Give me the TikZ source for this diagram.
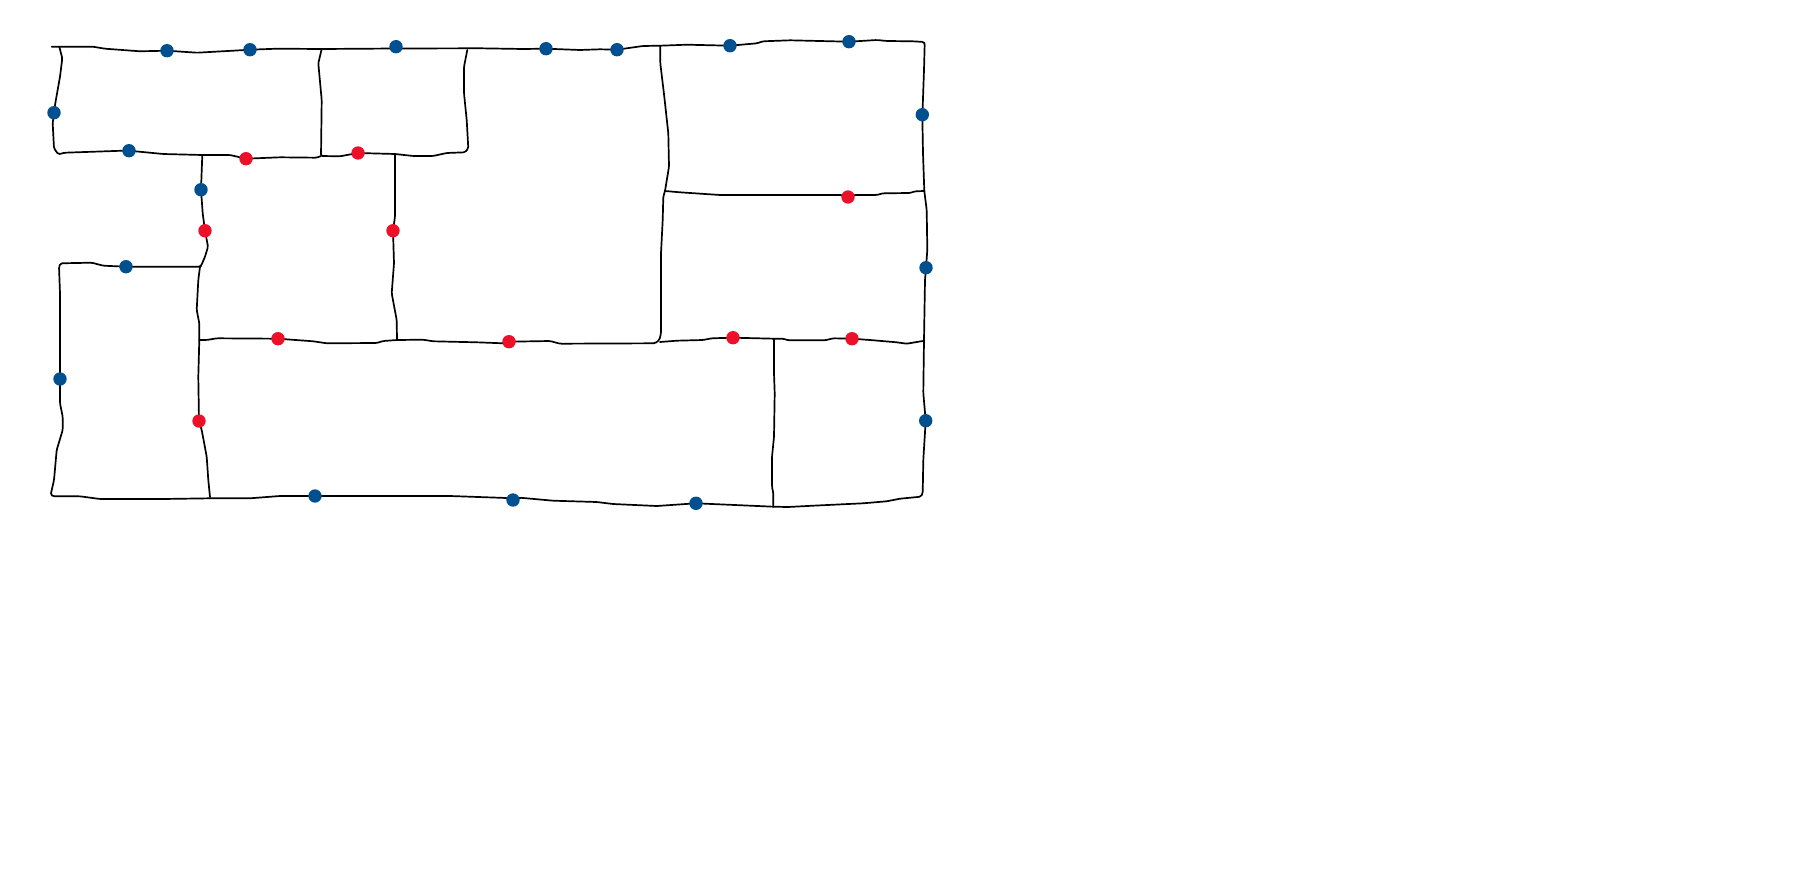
\documentclass[tikz,border=0pt]{standalone}
\pgfdeclarelayer{wires}
\pgfsetlayers{wires,main}
\definecolor{dotblue}{HTML}{00508F}
\definecolor{dotred}{HTML}{EC1128}
\tikzset{
  bluedot/.style={circle,fill=dotblue,draw=none,inner sep=0pt,minimum size=13.4pt},
  reddot/.style={circle,fill=dotred,draw=none,inner sep=0pt,minimum size=13.4pt},
  wire/.style={draw=black,line width=1.7pt,rounded corners=1.5pt,line join=round,line cap=round}
}
\begin{document}
\begin{tikzpicture}[x=1pt,y=-1pt]
\useasboundingbox (0,0) rectangle (1820,880);
% blue dots
\foreach \n/\x/\y in {b1/167/50.7,b2/250/49.7,b3/396/46.7,b4/54/112.7,b5/129/150.7,b6/201/189.7,b7/126/266.7,
  b8/546/48.7,b9/617/49.7,b10/730/45.7,b11/849/41.7,b12/922.3/114.7,b13/926/267.7,b14/60/379,b15/315/496,
  b16/513/500,b17/696/503.3,b18/925.7/420.7}
  \node[bluedot] (\n) at (\x,\y) {};
% red dots
\foreach \n/\x/\y in {r1/246/158.7,r2/358/153,r3/205/230.7,r4/393/230.7,r5/848/197,r6/199/421,r7/278/338.7,
  r8/509/341.7,r9/733/337.7,r10/852/338.7}
  \node[reddot] (\n) at (\x,\y) {};
% junctions and free ends
\coordinate (s1) at (51.7,46.7);
\coordinate (s2) at (59.3,46.7);
\coordinate (s3) at (467.3,50);
\coordinate (jA) at (321.7,49);
\coordinate (jE) at (660.3,45.7);
\coordinate (jF) at (202.3,155);
\coordinate (jG) at (321,156);
\coordinate (jH) at (395,154);
\coordinate (jI) at (200,266.7);
\coordinate (jJ) at (199.3,340);
\coordinate (jK) at (397,340);
\coordinate (jL) at (665,191);
\coordinate (jM) at (924.3,191);
\coordinate (jN) at (774,338.7);
\coordinate (jO) at (773.3,506.7);
\coordinate (jP) at (210,497);
\coordinate (jQ) at (922.7,341);
\coordinate (jR) at (660,342);
\begin{pgfonlayer}{wires}
% outer loop
\draw[wire] (s1) -- (93,46.7) -- (105,48.7) -- (140,51.3) -- (b1.center) -- (197,52.7) -- (233,50.7) -- (b2.center)
  -- (277,48.7) -- (jA) -- (396,48.5) -- (480,48.3) -- (523,49) -- (b8.center) -- (580,50) -- (600,49.3) -- (b9.center)
  -- (643,46) -- (jE) -- (687,44.7) -- (b10.center) -- (757,43.3) -- (763,41.3) -- (790,40.3) -- (b11.center)
  -- (877,40) -- (887,41) -- (913,41.3) -- (924,42) -- (924.7,44) -- (924,70) -- (922.7,106.7) -- (b12.center)
  -- (923,153.3) -- (jM) -- (926.7,210) -- (927.3,250) -- (b13.center) -- (925,280) -- (924,340) -- (923.3,393)
  -- (b18.center) -- (923.3,460) -- (922.7,493.3) -- (920.7,496.7) -- (900,498.7) -- (886.7,501.3) -- (863,503.3)
  -- (813,505.7) -- (788,507) -- (jO) -- (b17.center) -- (656.7,506) -- (613,504) -- (596.7,502) -- (553,500.7)
  -- (520,497.7) -- (b16.center) -- (506.7,498) -- (450,496) -- (b15.center) -- (280,496) -- (250,498.3) -- (210,498.3)
  -- (163,499) -- (100,499) -- (80,496.3) -- (53.3,496.3) -- (50.7,494.7) -- (54,480) -- (56.7,450) -- (62.7,430)
  -- (62.7,416.7) -- (60,403.3) -- (b14.center) -- (60,293.3) -- (59,266.7) -- (60.7,263.3) -- (91.7,262.7)
  -- (103.3,265.7) -- (b7.center) -- (jI) -- (201,266) -- (205,256.7) -- (208,246.7) -- (r3.center) -- (202.7,213.3)
  -- (b6.center) -- (jF);
% upper left room
\draw[wire] (s2) -- (62.3,58.3) -- (60,76.7) -- (55,105) -- (b4.center) -- (52.7,123.3) -- (54,148.3) -- (58.3,154.3)
  -- (65,152.7) -- (123,150.7) -- (b5.center) -- (163.3,154) -- (jF) -- (230,155) -- (r1.center) -- (280,157.3)
  -- (316.7,157.7) -- (jG);
\draw[wire] (jA) -- (318.3,63.3) -- (321.7,100) -- (jG) -- (340,156.3) -- (r2.center) -- (jH) -- (413.3,156)
  -- (433,156) -- (446.7,153) -- (465,152.3) -- (468.3,148.3) -- (466.7,120) -- (464,93.3) -- (464,66.7) -- (s3);
% inner verticals
\draw[wire] (jH) -- (395,216.7) -- (r4.center) -- (394,263.3) -- (391.7,293.3) -- (396.7,320) -- (jK);
\draw[wire] (jI) -- (198.3,280) -- (196.7,310) -- (199.3,323.3) -- (jJ) -- (198.3,376.7) -- (r6.center) -- (201.7,430)
  -- (206.7,456.7) -- (208.3,480) -- (jP);
% middle wire
\draw[wire] (jJ) -- (206.7,340) -- (216.7,338.3) -- (r7.center) -- (313.3,341.3) -- (326.7,343.3) -- (376.7,343)
  -- (383.3,341) -- (jK) -- (423,339.7) -- (433.3,341.3) -- (476.7,342.3) -- (503,343.3) -- (r8.center) -- (550,341)
  -- (560,343.7) -- (655,343.3) -- (659.3,340) -- (661,333.3) -- (661,253.3) -- (662.7,220) -- (663.3,196.7) -- (jL)
  -- (669,166.7) -- (668.3,133.3) -- (664.3,96.7) -- (660.3,63.3) -- (jE);
\draw[wire] (jL) -- (680,192.3) -- (720,195) -- (842,195) -- (r5.center) -- (854,195) -- (876.7,195) -- (883,193.3)
  -- (910,193) -- (915,191.3) -- (jM);
\draw[wire] (jR) -- (676.7,340.7) -- (703,340) -- (711.7,338.3) -- (r9.center) -- (jN) -- (783.3,338.7)
  -- (788.3,340.3) -- (825,340.3) -- (833.3,338.3) -- (r10.center) -- (870,340) -- (896.7,342.3) -- (906.7,343.7) -- (jQ);
\draw[wire] (jN) -- (774,373.3) -- (774.7,393.3) -- (774,436.7) -- (772,456.7) -- (772,486.7) -- (773.3,493.3) -- (jO);
\end{pgfonlayer}
\end{tikzpicture}
\end{document}
